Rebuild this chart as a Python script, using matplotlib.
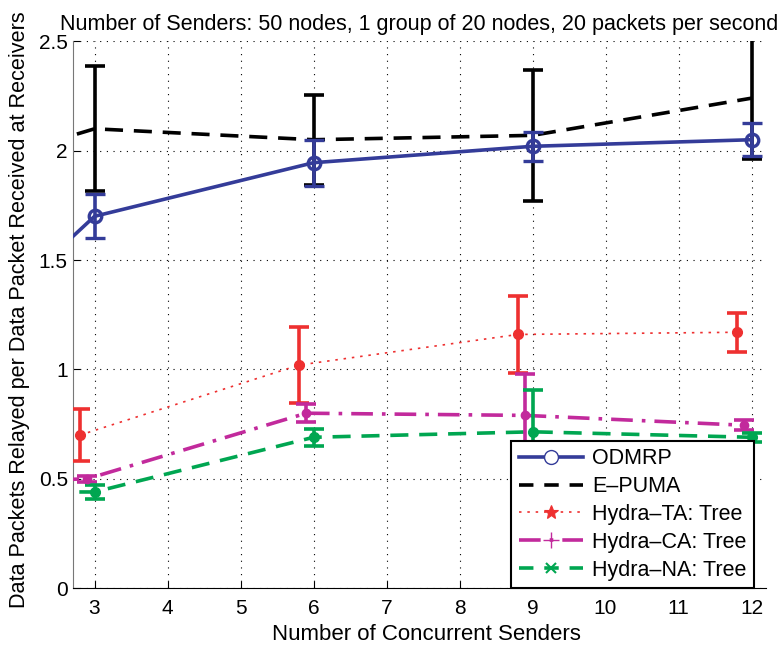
import matplotlib.pyplot as plt
from matplotlib.lines import Line2D
import numpy as np

plt.rcParams['font.family'] = ['Liberation Sans', 'DejaVu Sans']

senders = [3, 6, 9, 12]
lead_x = 2  # earlier sample, outside the shown range

odmrp = [1.39, 1.70, 1.945, 2.02, 2.05]
odmrp_err = [0, 0.10, 0.105, 0.065, 0.075]
epuma = [2.00, 2.10, 2.05, 2.07, 2.24]
epuma_err = [0, 0.285, 0.205, 0.30, 0.28]
hydra_ta = [0.70, 1.02, 1.16, 1.17]
hydra_ta_err = [0.117, 0.175, 0.175, 0.09]
hydra_ca = [0.49, 0.50, 0.80, 0.79, 0.745]
hydra_ca_err = [0, 0.015, 0.04, 0.19, 0.023]
hydra_na = [0.44, 0.44, 0.69, 0.715, 0.69]
hydra_na_err = [0, 0.03, 0.04, 0.19, 0.02]

c_blue = '#343C99'
c_red = '#EE3030'
c_mag = '#C22A9C'
c_green = '#00A651'

fig = plt.figure(figsize=(7.81, 6.45), dpi=100)
ax = fig.add_axes([0.093, 0.088, 0.888, 0.848])

x_full = np.array([lead_x] + senders, dtype=float)
x_ta = np.array(senders, dtype=float) - 0.2
x_ca = x_full - 0.1

ax.plot(x_full, epuma, color='black', lw=2.6, dashes=(5, 3), zorder=3)
ax.errorbar(x_full, epuma, yerr=epuma_err, fmt='none', ecolor='black',
            elinewidth=2.6, capsize=7, capthick=2.6, zorder=4)

ax.plot(x_full, odmrp, color=c_blue, lw=2.6, zorder=5)
ax.errorbar(x_full, odmrp, yerr=odmrp_err, fmt='o', color=c_blue, mfc='none',
            mec=c_blue, mew=2.4, ms=9, elinewidth=2.6, capsize=7,
            capthick=2.6, zorder=5)

ax.plot(x_ta, hydra_ta, color=c_red, lw=1.2, dashes=(1.5, 3.5), zorder=3)
ax.errorbar(x_ta, hydra_ta, yerr=hydra_ta_err, fmt='o', color=c_red, ms=7,
            elinewidth=2.6, capsize=7, capthick=2.6, zorder=4)

ax.plot(x_ca, hydra_ca, color=c_mag, lw=2.6, dashes=(6, 2.5, 1, 2.5), zorder=3)
ax.errorbar(x_ca, hydra_ca, yerr=hydra_ca_err, fmt='o', color=c_mag, ms=6,
            elinewidth=2.6, capsize=7, capthick=2.6, zorder=4)

ax.plot(x_full, hydra_na, color=c_green, lw=2.6, dashes=(5, 3), zorder=3)
ax.errorbar(x_full, hydra_na, yerr=hydra_na_err, fmt='o', color=c_green, ms=7,
            elinewidth=2.6, capsize=7, capthick=2.6, zorder=4)

ax.set_xlim(2.7, 12.2)
ax.set_ylim(0, 2.5)
ax.set_xticks(list(range(3, 13)))
ax.set_yticks([0, 0.5, 1, 1.5, 2, 2.5])
ax.set_yticklabels(['0', '0.5', '1', '1.5', '2', '2.5'])
ax.tick_params(direction='in', labelsize=15, length=5, width=0.8)
ax.tick_params(axis='x', pad=8)
ax.grid(True, color='black', linestyle=(0, (1, 5)), linewidth=0.8)
ax.spines['top'].set_visible(False)
ax.spines['right'].set_visible(False)
ax.spines['left'].set_color('#777777')

ax.set_xlabel('Number of Concurrent Senders', fontsize=16)
ax.xaxis.set_label_coords(0.51, -0.065)
ax.set_ylabel('Data Packets Relayed per Data Packet Received at Receivers',
              fontsize=15.6)
ax.yaxis.set_label_coords(-0.062, 0.51)
ax.set_title('Number of Senders: 50 nodes, 1 group of 20 nodes, 20 packets per second',
             fontsize=15.5, family=['Liberation Sans Narrow', 'Liberation Sans'],
             x=0.5, pad=8)

handles = [
    Line2D([], [], color=c_blue, lw=2.6, marker='o', mfc='white', ms=10, mew=1),
    Line2D([], [], color='black', lw=2.6, dashes=(4, 3)),
    Line2D([], [], color=c_red, lw=1.2, dashes=(1.5, 3.5), marker='*', ms=10, mew=0.8),
    Line2D([], [], color=c_mag, lw=2.6, dashes=(6, 2.5, 1, 2.5), marker='+', ms=11, mew=1),
    Line2D([], [], color=c_green, lw=2.6, dashes=(4, 3), marker='x', ms=7, mew=1.5),
]
labels = ['ODMRP', 'E\u2013PUMA', 'Hydra\u2013TA: Tree', 'Hydra\u2013CA: Tree',
          'Hydra\u2013NA: Tree']
leg = ax.legend(handles, labels, loc='lower right', fontsize=15.5, fancybox=False,
                framealpha=1, edgecolor='black', handlelength=3.0,
                labelspacing=0.32, borderaxespad=0.0, borderpad=0.35,
                handletextpad=0.4, bbox_to_anchor=(0.982, 0.0))
leg.get_frame().set_linewidth(1.5)
leg.set_zorder(10)

fig.savefig('out.png', dpi=100)
